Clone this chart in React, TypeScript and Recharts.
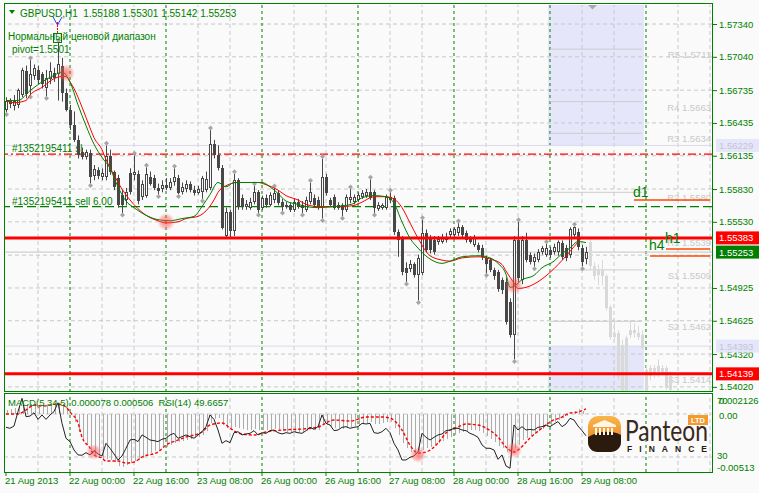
import React from 'react';
import {
  ComposedChart,
  Bar,
  Line,
  XAxis,
  YAxis,
  ReferenceLine,
  ReferenceArea,
  ReferenceDot,
} from 'recharts';

const GREEN = '#008000';
const FONT = '"Liberation Sans", Arial, sans-serif';
const W = 759;
const H = 493;
const PLOT_R = 712;
const SLOTS = 177; // 4px per H1 bar across the plot
const MAIN_DOMAIN = [1.53973, 1.57514];

// GBPUSD H1, 21 Aug 08:00 .. 29 Aug 09:00
const candleOpen = [
  1.5655, 1.5664, 1.5659, 1.566, 1.5669, 1.5691, 1.5677, 1.5686, 1.5692, 1.5688,
  1.5675, 1.5684, 1.5689, 1.5688, 1.5696, 1.5671, 1.5655, 1.5642, 1.5628, 1.5617,
  1.5612, 1.5616, 1.5595, 1.56, 1.5594, 1.5594, 1.5613, 1.5599, 1.5593, 1.5578,
  1.5573, 1.5598, 1.5596, 1.5597, 1.5576, 1.5577, 1.5594, 1.5593, 1.5584, 1.5583,
  1.5587, 1.5584, 1.5589, 1.5593, 1.558, 1.5583, 1.5588, 1.5582, 1.5579, 1.558,
  1.5582, 1.5584, 1.5624, 1.5614, 1.5602, 1.554, 1.5562, 1.5545, 1.5591, 1.5575,
  1.5567, 1.5566, 1.5571, 1.558, 1.5566, 1.5575, 1.5568, 1.5573, 1.5579, 1.5571,
  1.5567, 1.5568, 1.5564, 1.5571, 1.5568, 1.5564, 1.5571, 1.5575, 1.5573, 1.5566,
  1.5594, 1.5573, 1.5576, 1.5568, 1.5568, 1.5564, 1.5573, 1.5571, 1.5573, 1.5576,
  1.5577, 1.558, 1.558, 1.5565, 1.5566, 1.5566, 1.5576, 1.5575, 1.5544, 1.5538,
  1.5511, 1.551, 1.5514, 1.5504, 1.5506, 1.5543, 1.5538, 1.5536, 1.5535, 1.5535,
  1.5539, 1.5541, 1.5541, 1.5543, 1.5548, 1.5543, 1.5538, 1.5532, 1.5532, 1.5529,
  1.552, 1.5518, 1.5509, 1.5507, 1.55, 1.5498, 1.548, 1.5449, 1.5536, 1.55,
  1.5536, 1.5523, 1.5516, 1.5518, 1.5525, 1.5523, 1.5527, 1.5525, 1.5525, 1.5534,
  1.5529, 1.5523, 1.5541, 1.5544, 1.5529, 1.55188,
];
const candleHigh = [
  1.5667, 1.5666, 1.5669, 1.5675, 1.5694, 1.5696, 1.5701, 1.5697, 1.5696, 1.569,
  1.5692, 1.5699, 1.5694, 1.5717, 1.5703, 1.5675, 1.566, 1.5654, 1.5632, 1.5621,
  1.5619, 1.5619, 1.5605, 1.5603, 1.5602, 1.5623, 1.5619, 1.56, 1.5596, 1.5582,
  1.5584, 1.5602, 1.5614, 1.56, 1.5591, 1.5603, 1.5599, 1.5596, 1.5588, 1.5591,
  1.5593, 1.5593, 1.5602, 1.5596, 1.5589, 1.5591, 1.559, 1.5586, 1.5586, 1.5595,
  1.5599, 1.5637, 1.5628, 1.5623, 1.5605, 1.5566, 1.5564, 1.5597, 1.5593, 1.5578,
  1.5573, 1.5575, 1.5586, 1.5582, 1.5577, 1.5578, 1.558, 1.5584, 1.5582, 1.5574,
  1.5571, 1.5571, 1.5574, 1.5574, 1.5572, 1.5576, 1.5589, 1.5578, 1.5576, 1.5611,
  1.5597, 1.5575, 1.5578, 1.5571, 1.557, 1.5578, 1.5583, 1.5578, 1.558, 1.5582,
  1.5583, 1.5592, 1.5582, 1.5571, 1.557, 1.5578, 1.558, 1.5577, 1.5546, 1.554,
  1.5516, 1.5518, 1.5516, 1.5523, 1.5555, 1.5546, 1.5541, 1.554, 1.554, 1.5542,
  1.5543, 1.5547, 1.5548, 1.5552, 1.555, 1.5545, 1.554, 1.5541, 1.5534, 1.5532,
  1.5522, 1.552, 1.5511, 1.5509, 1.5502, 1.5502, 1.5483, 1.554, 1.5553, 1.554,
  1.5543, 1.5525, 1.5524, 1.5528, 1.5531, 1.5533, 1.553, 1.5533, 1.5536, 1.5536,
  1.5532, 1.5548, 1.5549, 1.5547, 1.5532, 1.55301,
];
const candleLow = [
  1.5653, 1.5657, 1.5655, 1.5657, 1.5667, 1.5666, 1.5669, 1.5683, 1.5679, 1.5675,
  1.5668, 1.5679, 1.5681, 1.5664, 1.5663, 1.5654, 1.5637, 1.5626, 1.5611, 1.561,
  1.561, 1.5588, 1.5591, 1.5592, 1.5591, 1.5591, 1.5596, 1.5582, 1.5566, 1.5561,
  1.5568, 1.5578, 1.5591, 1.5569, 1.5573, 1.5575, 1.5586, 1.5582, 1.5578, 1.558,
  1.5582, 1.5582, 1.5586, 1.5578, 1.5578, 1.558, 1.558, 1.5577, 1.5578, 1.5574,
  1.558, 1.5582, 1.5611, 1.56, 1.5546, 1.5538, 1.5538, 1.554, 1.5564, 1.5564,
  1.5564, 1.5564, 1.5569, 1.5561, 1.5564, 1.5566, 1.5567, 1.557, 1.5568, 1.5563,
  1.5565, 1.5562, 1.5562, 1.5565, 1.5561, 1.5562, 1.5569, 1.5566, 1.5564, 1.5556,
  1.5577, 1.5567, 1.5564, 1.5564, 1.5558, 1.5562, 1.557, 1.5569, 1.5571, 1.5574,
  1.5575, 1.5573, 1.5561, 1.5563, 1.5564, 1.5564, 1.557, 1.5541, 1.5521, 1.5504,
  1.5498, 1.5507, 1.5502, 1.5481, 1.5504, 1.5525, 1.5524, 1.5523, 1.5532, 1.5533,
  1.5534, 1.5538, 1.5539, 1.554, 1.5539, 1.5534, 1.5533, 1.553, 1.5525, 1.5518,
  1.5506, 1.5507, 1.55, 1.5489, 1.5487, 1.5459, 1.5447, 1.5427, 1.5498, 1.5496,
  1.5516, 1.5514, 1.5512, 1.5516, 1.5523, 1.5521, 1.552, 1.5523, 1.5522, 1.5518,
  1.5517, 1.552, 1.5538, 1.5527, 1.5512, 1.55142,
];
const candleClose = [
  1.5664, 1.5661, 1.5664, 1.5674, 1.5692, 1.567, 1.5688, 1.5694, 1.5683, 1.5679,
  1.5685, 1.5691, 1.5685, 1.5697, 1.5671, 1.5655, 1.5642, 1.5628, 1.5614, 1.5612,
  1.5617, 1.5594, 1.5601, 1.5595, 1.5598, 1.5613, 1.5599, 1.5585, 1.5568, 1.5568,
  1.558, 1.558, 1.5599, 1.5572, 1.5588, 1.5597, 1.5588, 1.5584, 1.5581, 1.5587,
  1.5584, 1.5589, 1.5594, 1.5579, 1.5585, 1.5588, 1.5582, 1.5579, 1.5583, 1.5593,
  1.5592, 1.5624, 1.5614, 1.5602, 1.5547, 1.5562, 1.5545, 1.5591, 1.5567, 1.5567,
  1.5569, 1.5571, 1.558, 1.5564, 1.5575, 1.5568, 1.5578, 1.5579, 1.557, 1.5567,
  1.5568, 1.5564, 1.5571, 1.5567, 1.5566, 1.5573, 1.558, 1.5568, 1.5566, 1.5594,
  1.5579, 1.5568, 1.5566, 1.5566, 1.5564, 1.5576, 1.5576, 1.5576, 1.5578, 1.5579,
  1.558, 1.5575, 1.5566, 1.5568, 1.5568, 1.5576, 1.5573, 1.5544, 1.5536, 1.5507,
  1.5506, 1.5514, 1.5504, 1.552, 1.5543, 1.5527, 1.5527, 1.5525, 1.5537, 1.5539,
  1.5536, 1.5545, 1.5546, 1.5548, 1.5541, 1.5536, 1.5535, 1.5539, 1.5527, 1.5521,
  1.5514, 1.5509, 1.5503, 1.5492, 1.5491, 1.5461, 1.5449, 1.5536, 1.5502, 1.5536,
  1.5518, 1.5516, 1.5521, 1.5525, 1.5529, 1.5529, 1.5523, 1.553, 1.5535, 1.5521,
  1.552, 1.5546, 1.5548, 1.553, 1.5516, 1.55253,
];

// faded bars drawn to the right of the last real bar
const ghostOpen = [
  1.5535, 1.5513, 1.5504, 1.5509, 1.5503, 1.5475, 1.5448, 1.5451, 1.544, 1.5398, 1.5449,
  1.5454, 1.5451, 1.5449, 1.5417, 1.5419, 1.5413, 1.5416, 1.5419, 1.5419, 1.5412,
];
const ghostHigh = [
  1.5538, 1.5516, 1.5514, 1.5518, 1.5505, 1.5477, 1.5465, 1.5454, 1.5445, 1.5449, 1.5463,
  1.546, 1.5458, 1.5454, 1.5422, 1.5422, 1.5422, 1.5427, 1.5422, 1.5421, 1.5416,
];
const ghostLow = [
  1.5509, 1.55, 1.5495, 1.5495, 1.5472, 1.5445, 1.5445, 1.5408, 1.5397, 1.5397, 1.5447,
  1.5447, 1.5445, 1.5436, 1.5397, 1.5408, 1.541, 1.5411, 1.5413, 1.5399, 1.5397,
];
const ghostClose = [
  1.5513, 1.5503, 1.551, 1.5503, 1.5474, 1.5448, 1.5451, 1.5411, 1.5398, 1.5447, 1.5454,
  1.5451, 1.5448, 1.5438, 1.5398, 1.5412, 1.5419, 1.5421, 1.5416, 1.5401, 1.5399,
];

const fractalUp = [6, 13, 25, 32, 35, 42, 51, 57, 62, 67, 76, 79, 86, 91, 96, 104, 113, 128, 135, 142];
const fractalDown = [0, 6, 10, 21, 29, 38, 43, 49, 63, 69, 74, 79, 84, 92, 100, 103, 120, 127, 132, 144];

// moving averages, read at sample bars
const fastMaBars = [
  0, 3, 6, 9, 12, 14, 16, 18, 20, 22, 24, 26, 28, 30, 32, 35, 38, 41, 44, 47, 49, 51, 53, 55, 57, 60, 64, 66, 68, 70,
  73, 75, 78, 82, 85, 87, 89, 92, 95, 97, 99, 101, 103, 106, 109, 111, 114, 118, 121, 123, 125, 126, 127, 129, 132,
  134, 137, 139, 141, 143, 145,
];
const fastMaValues = [
  1.5664, 1.5664, 1.5673, 1.5681, 1.5687, 1.569, 1.5681, 1.566, 1.5641, 1.5624, 1.5612, 1.5602, 1.5585, 1.5572,
  1.5566, 1.5559, 1.5555, 1.5554, 1.5556, 1.5558, 1.5567, 1.5578, 1.5589, 1.5585, 1.5589, 1.5589, 1.5589, 1.5585,
  1.5579, 1.5572, 1.5569, 1.5567, 1.5566, 1.5567, 1.5568, 1.557, 1.5575, 1.5577, 1.5576, 1.557, 1.5553, 1.5538,
  1.5529, 1.5519, 1.5515, 1.5517, 1.5521, 1.5522, 1.552, 1.5515, 1.5505, 1.5493, 1.5494, 1.55, 1.5504, 1.5511,
  1.5517, 1.5524, 1.5529, 1.5535, 1.5534,
];
const slowMaBars = [
  0, 2, 5, 6, 9, 12, 14, 15, 16, 17, 19, 21, 22, 24, 25, 27, 29, 31, 33, 35, 38, 40, 43, 45, 48, 50, 52, 53, 55, 58,
  63, 65, 68, 70, 73, 75, 78, 84, 87, 89, 92, 95, 97, 99, 101, 103, 106, 109, 111, 114, 118, 121, 124, 125, 127, 128,
  144,
];
const slowMaValues = [
  1.5664, 1.5662, 1.5664, 1.5669, 1.5676, 1.5684, 1.5686, 1.5686, 1.5681, 1.5675, 1.5658, 1.5639, 1.563, 1.5619,
  1.561, 1.5596, 1.5583, 1.5573, 1.5565, 1.5559, 1.5554, 1.5552, 1.5553, 1.5556, 1.5558, 1.5563, 1.5573, 1.558,
  1.5586, 1.5589, 1.5589, 1.5587, 1.5582, 1.5577, 1.5573, 1.5569, 1.5567, 1.5567, 1.5568, 1.5571, 1.5576, 1.5576,
  1.5574, 1.5566, 1.5552, 1.5538, 1.5522, 1.5518, 1.5517, 1.552, 1.5521, 1.5519, 1.5514, 1.5508, 1.5497, 1.5492,
  1.5539,
];

// MACD(5,34,5) main line, in units of 1e-4
const macdMain = [
  3.9, 4.8, 5.8, 7.7, 9.7, 9.7, 9.7, 9.7, 8.7, 8.7,
  8.7, 8.7, 9.7, 10.6, 9.7, 5.8, 0, -7.7, -17.4, -25.2,
  -30, -34.8, -39.7, -42.6, -44.5, -43.6, -44.5, -46.5, -50.3, -51.3,
  -49.4, -47.4, -45.5, -44.5, -42.6, -39.7, -37.8, -35.8, -34.8, -32.9,
  -31.9, -30, -28.1, -27.1, -26.1, -25.2, -24.2, -23.2, -22.3, -20.3,
  -16.5, -8.7, -4.8, -3.9, -10.6, -13.6, -15.5, -12.6, -13.6, -14.5,
  -15.5, -15.5, -14.5, -15.5, -15.5, -15.5, -15.5, -14.5, -15.5, -16.5,
  -17.4, -17.4, -17.4, -17.4, -17.4, -16.5, -14.5, -15.5, -15.5, -10.6,
  -10.6, -12.6, -13.6, -13.6, -14.5, -13.6, -12.6, -11.6, -10.6, -9.7,
  -8.7, -7.7, -9.7, -9.7, -8.7, -7.7, -7.7, -13.6, -20.3, -28.1,
  -32.9, -36.8, -37.8, -37.8, -34.8, -32.9, -31.9, -30, -28.1, -26.1,
  -24.2, -22.3, -20.3, -18.4, -17.4, -16.5, -15.5, -15.5, -16.5, -18.4,
  -21.3, -24.2, -27.1, -31, -32.9, -36.8, -40.7, -32.9, -30, -25.2,
  -23.2, -21.3, -19.4, -16.5, -14.5, -12.6, -10.6, -7.7, -5.8, -3.9,
  -1.9, 1, 2.9, 4.8, 2.9, 0.78,
];
// MACD signal line, 1e-4, read at sample bars
const signalBars = [
  0, 3, 5, 7, 9, 13, 15, 16, 18, 19, 21, 22, 24, 25, 28, 30, 32, 34, 38, 40, 43, 45, 49, 51, 54, 56, 58, 62, 65,
  69, 74, 78, 82, 86, 90, 94, 96, 99, 101, 103, 105, 108, 110, 113, 115, 118, 120, 123, 125, 127, 128, 131, 134,
  136, 139, 141, 143, 145,
];
const signalValues = [
  0, 0, 3.9, 8.7, 7.7, 9.7, 6.8, 1.9, -8.7, -22.3, -32.9, -39.7, -42.6, -45.5, -45.5, -47.4, -46.5, -41.6, -36.8,
  -30, -25.2, -22.3, -17.4, -10.6, -8.7, -13.6, -18.4, -20.3, -17.4, -15.5, -14.5, -12.6, -5.8, -6.8, -2.9, -2.9,
  -3.9, -15.5, -30, -37.8, -36.8, -28.1, -18.4, -12.6, -9.7, -10.6, -13.6, -22.3, -31.9, -36.8, -34.8, -23.2,
  -13.6, -7.7, -2.9, 1, 1.9, 5.06,
];
const rsi14 = [
  57.6, 56.7, 58.8, 72.2, 84.6, 67.5, 68.1, 71.2, 65, 69.1,
  65, 69.1, 72.2, 80.5, 61.3, 47.4, 44.3, 36.5, 31.9, 31.6,
  34, 31.9, 35.9, 32.8, 30.9, 42.7, 38.1, 32.8, 27.2, 30.9,
  38.1, 45.8, 46.5, 44.3, 50.5, 48.3, 45.8, 45.2, 44.3, 46.5,
  47.4, 50.5, 52, 47.4, 48.9, 50.5, 48.9, 47.4, 50.5, 53.5,
  58.2, 69.1, 65, 55.1, 42.7, 45.2, 43.3, 52.6, 53.5, 50.5,
  51.4, 52, 54.5, 50.5, 52.6, 52, 54.5, 55.1, 52.6, 51.4,
  52.6, 52, 53.5, 52.6, 52, 54.5, 57.6, 55.7, 58.2, 69.1,
  61.3, 59.8, 54.5, 55.1, 57.6, 58.2, 56.7, 57.6, 58.2, 61.3,
  60.7, 61.3, 52.6, 52, 53.5, 56.7, 52.6, 42.7, 36.5, 27.2,
  27.2, 29.7, 30.9, 34.9, 52, 48.3, 45.8, 48.3, 50.5, 51.4,
  54.5, 55.1, 56.7, 56.7, 55.1, 54.5, 52, 50.5, 48.3, 41.2,
  38.1, 38.1, 36.5, 27.8, 31.9, 21.6, 19.5, 59.8, 55.1, 58.2,
  55.1, 55.7, 55.1, 57.6, 58.2, 59.8, 58.2, 60.7, 62.9, 58.2,
  60.7, 66, 64.4, 58.8, 54.5, 49.7,
];

const separatorBars = [16, 40, 64, 88, 112, 136, 160];
const dateTickBars = [0, 16, 32, 48, 64, 80, 96, 112, 128, 144];
const dateLabels = [
  '21 Aug 2013', '22 Aug 00:00', '22 Aug 16:00', '23 Aug 08:00', '26 Aug 00:00',
  '26 Aug 16:00', '27 Aug 08:00', '28 Aug 00:00', '28 Aug 16:00', '29 Aug 08:00',
];

const gridPrices = [1.5734, 1.5704, 1.56735, 1.56435, 1.56135, 1.5583, 1.5553, 1.55225, 1.54925, 1.54625, 1.5432, 1.5402];
const labelPrices = gridPrices.filter((p) => p !== 1.55225);
const boxPrices = [
  { value: 1.56229, bg: '#e6e6fa', fg: '#c4c4d6' },
  { value: 1.54393, bg: '#e6e6fa', fg: '#c4c4d6' },
  { value: 1.55383, bg: '#ff0000', fg: '#ffffff' },
  { value: 1.54139, bg: '#ff0000', fg: '#ffffff' },
  { value: 1.55253, bg: GREEN, fg: '#ffffff' },
];
const zoneTop = 1.56229;
const zoneBottom = 1.54393;
const zoneBars = [136, 159];
const pivotNames = ['R5', 'R4', 'R3', 'R2', 'R1', 'S1', 'S2', 'S3'];
const pivotValues = [1.5711, 1.5663, 1.5634, 1.558, 1.5539, 1.5509, 1.5462, 1.5414];
const levelNames = ['d1', 'h4', 'h1'];
const levelValues = [1.5573, 1.55217, 1.55281];
const levelStartBars = [157, 161, 165];
const levelLabelDy: Record<string, number> = { d1: -3, h4: -6, h1: -6 };
const bidPrice = 1.55253;
const stopPrice = 1.5615;
const sellPrice = 1.5567;
const redLevels = [1.55383, 1.54139];
const crossMain = [
  { bar: 15, value: 1.5689 },
  { bar: 40, value: 1.5553 },
  { bar: 127, value: 1.5495 },
];
const crossSub = [
  { bar: 22, value: 34.7 },
  { bar: 103, value: 31.9 },
  { bar: 127, value: 36.5 },
];

type Row = { i: number; [key: string]: any };

const mainRows: Row[] = Array.from({ length: SLOTS }, (_, i) => ({ i }));
candleOpen.forEach((open, k) => {
  Object.assign(mainRows[k], {
    open, high: candleHigh[k], low: candleLow[k], close: candleClose[k],
    range: [candleLow[k], candleHigh[k]],
  });
});
ghostOpen.forEach((open, n) => {
  const k = candleOpen.length + n;
  Object.assign(mainRows[k], {
    open, high: ghostHigh[n], low: ghostLow[n], close: ghostClose[n],
    range: [ghostLow[n], ghostHigh[n]], ghost: true,
  });
});
fractalUp.forEach((k) => { mainRows[k].fu = true; });
fractalDown.forEach((k) => { mainRows[k].fd = true; });
fastMaBars.forEach((k, n) => { mainRows[k].fast = fastMaValues[n]; });
slowMaBars.forEach((k, n) => { mainRows[k].slow = slowMaValues[n]; });

const subRows: Row[] = Array.from({ length: SLOTS }, (_, i) => ({ i }));
macdMain.forEach((v, k) => { subRows[k].macd = v; });
rsi14.forEach((v, k) => { subRows[k].rsi = v; });
signalBars.forEach((k, n) => { subRows[k].signal = signalValues[n]; });

const gridBars: number[] = [];
for (let k = 8; k < SLOTS; k += 8) if (!separatorBars.includes(k)) gridBars.push(k);

function Candle(props: any) {
  const { x, y, width, height, payload } = props;
  if (!payload || payload.high == null) return null;
  const top = Math.min(y, y + height);
  const h = Math.abs(height);
  const { open, close, high, low, ghost, fu, fd } = payload;
  const span = high - low || 1e-9;
  const py = (v: number) => top + ((high - v) / span) * h;
  const cx = Math.round(x + width / 2);
  const yo = py(open);
  const yc = py(close);
  const bTop = Math.round(Math.min(yo, yc));
  const bBot = Math.round(Math.max(yo, yc));
  const col = ghost ? '#d9d9d9' : '#474747';
  const bull = close > open;
  const diamond = (cy: number) => (
    <polygon
      points={`${cx + 0.5},${cy - 2.5} ${cx + 3},${cy} ${cx + 0.5},${cy + 2.5} ${cx - 2},${cy}`}
      fill="#a6a6a6"
    />
  );
  return (
    <g>
      <line x1={cx + 0.5} x2={cx + 0.5} y1={top} y2={top + h} stroke={col} strokeWidth={1} />
      {bBot - bTop < 1 ? (
        <line x1={cx - 1} x2={cx + 2} y1={bTop + 0.5} y2={bTop + 0.5} stroke={col} />
      ) : bull && !ghost ? (
        <rect x={cx - 0.5} y={bTop + 0.5} width={2} height={Math.max(0, bBot - bTop - 1)} fill="#fafafa" stroke={col} strokeWidth={1} />
      ) : (
        <rect x={cx - 1} y={bTop} width={3} height={bBot - bTop} fill={col} />
      )}
      {fu && !ghost ? diamond(top - 2) : null}
      {fd && !ghost ? diamond(top + h + 2) : null}
    </g>
  );
}

function HistBar(props: any) {
  const { x, y, width, height } = props;
  if (height == null || isNaN(y)) return null;
  const top = Math.min(y, y + height);
  const cx = Math.round(x + width / 2);
  return <rect x={cx} y={top} width={1} height={Math.abs(height)} fill="#ababab" />;
}

function PriceTick(props: any) {
  const { y, payload } = props;
  const v = payload.value as number;
  const box = boxPrices.find((b) => b.value === v);
  const label = v.toFixed(5);
  if (box) {
    return (
      <g>
        <rect x={716} y={y - 6.5} width={W - 716} height={13} fill={box.bg} />
        <text x={719} y={y + 3.5} fill={box.fg} fontSize={9.5} fontFamily={FONT}>{label}</text>
      </g>
    );
  }
  return (
    <g>
      <line x1={PLOT_R + 1} x2={PLOT_R + 5} y1={y + 0.5} y2={y + 0.5} stroke={GREEN} />
      <text x={719} y={y + 3.5} fill={GREEN} fontSize={9.5} fontFamily={FONT}>{label}</text>
    </g>
  );
}

function DateTick(props: any) {
  const { x, y, payload } = props;
  const idx = dateTickBars.indexOf(payload.value);
  return (
    <text x={x - 1} y={y + 6} fill={GREEN} fontSize={9.5} fontFamily={FONT}>
      {dateLabels[idx]}
    </text>
  );
}

function OrderLabel(props: any) {
  const { viewBox, caption } = props;
  if (!viewBox) return null;
  return (
    <text x={viewBox.x + 8} y={viewBox.y - 2} fill={GREEN} fontSize={10} fontFamily={FONT}>
      {caption}
    </text>
  );
}

function PivotLabel(props: any) {
  const { viewBox, caption } = props;
  if (!viewBox) return null;
  return (
    <text x={PLOT_R - 1} y={viewBox.y + 9} textAnchor="end" fill="#c9c9c9" fontSize={9.5} fontFamily={FONT}>
      {caption}
    </text>
  );
}

function LevelLabel(props: any) {
  const { viewBox, caption } = props;
  if (!viewBox) return null;
  return (
    <text x={viewBox.x - 1} y={viewBox.y + (levelLabelDy[caption] ?? -3)} fill={GREEN} fontSize={14} fontFamily={FONT}>
      {caption}
    </text>
  );
}

const dashGrid = { stroke: '#c8c8c8', strokeDasharray: '4 3' };

export default function App() {
  return (
    <div
      style={{
        position: 'absolute', left: 0, top: 0, width: W, height: H,
        background: '#fafafa', overflow: 'hidden', fontFamily: FONT,
      }}
    >
      <div style={{ position: 'absolute', left: 0, top: 0 }}>
        <ComposedChart width={W} height={395} data={mainRows} margin={{ top: 5, right: 0, bottom: 3, left: 4 }}>
          <XAxis dataKey="i" type="category" hide />
          <YAxis
            orientation="right"
            width={47}
            domain={MAIN_DOMAIN}
            allowDataOverflow
            ticks={[...labelPrices, ...boxPrices.map((b) => b.value)]}
            interval={0}
            tick={(p: any) => <PriceTick {...p} />}
            axisLine={false}
            tickLine={false}
          />
          <ReferenceArea zIndex={-90} x1={zoneBars[0]} x2={zoneBars[1]} y1={zoneTop} y2={MAIN_DOMAIN[1]} fill="#e6e6fa" fillOpacity={1} stroke="none" />
          <ReferenceArea zIndex={-90} x1={zoneBars[0]} x2={zoneBars[1]} y1={MAIN_DOMAIN[0]} y2={zoneBottom} fill="#e6e6fa" fillOpacity={1} stroke="none" />
          {gridPrices.map((p) => (
            <ReferenceLine zIndex={-80} key={'gy' + p} y={p} {...dashGrid} />
          ))}
          {gridBars.map((k) => (
            <ReferenceLine zIndex={-80} key={'gx' + k} x={k} {...dashGrid} />
          ))}
          {separatorBars.map((k) => (
            <ReferenceLine zIndex={-70} key={'sep' + k} x={k} stroke={GREEN} strokeDasharray="3 3" />
          ))}
          <ReferenceLine zIndex={-70} y={zoneTop} stroke="#dadaf0" />
          <ReferenceLine zIndex={-70} y={zoneBottom} stroke="#dadaf0" />
          {pivotValues.map((v, n) => (
            <ReferenceLine
              key={'pv' + n}
              zIndex={-70}
              segment={[{ x: zoneBars[0], y: v }, { x: zoneBars[1], y: v }]}
              stroke="#cdcdcd"
              label={<PivotLabel caption={`${pivotNames[n]} ${v.toFixed(4)}`} />}
            />
          ))}
          <ReferenceLine zIndex={-70} y={bidPrice} stroke="#c4c4c4" />
          <ReferenceLine zIndex={-60} y={stopPrice} stroke="#ff0000" strokeWidth={1.3} strokeDasharray="8 3 2 3" label={<OrderLabel caption="#1352195411 sl" />} />
          <ReferenceLine zIndex={-60} y={sellPrice} stroke={GREEN} strokeWidth={1.2} strokeDasharray="9 4" label={<OrderLabel caption="#1352195411 sell 6.00" />} />
          {redLevels.map((v) => (
            <ReferenceLine key={'red' + v} y={v} stroke="#ff0000" strokeWidth={3} />
          ))}
          {levelNames.map((name, n) => (
            <ReferenceLine
              key={'lv' + name}
              segment={[{ x: levelStartBars[n], y: levelValues[n] }, { x: SLOTS - 1, y: levelValues[n] }]}
              stroke="#ff4a00"
              strokeWidth={1.4}
              label={<LevelLabel caption={name} />}
            />
          ))}
          <Bar dataKey="range" barSize={4} shape={(p: any) => <Candle {...p} />} isAnimationActive={false} />
          <Line dataKey="slow" type="monotone" stroke="#ff0000" strokeWidth={1} dot={false} activeDot={false} connectNulls isAnimationActive={false} />
          <Line dataKey="fast" type="monotone" stroke={GREEN} strokeWidth={1} dot={false} activeDot={false} connectNulls isAnimationActive={false} />
          {crossMain.map((c) => (
            <ReferenceDot key={'cm' + c.bar} x={c.bar} y={c.value} r={9} fill="url(#pinkGlow)" stroke="none" />
          ))}
        </ComposedChart>
      </div>

      <div style={{ position: 'absolute', left: 0, top: 392 }}>
        <ComposedChart width={W} height={101} data={subRows} margin={{ top: 3, right: 47, bottom: 1, left: 4 }}>
          <XAxis
            dataKey="i"
            type="category"
            ticks={dateTickBars}
            interval={0}
            tick={(p: any) => <DateTick {...p} />}
            tickLine={{ stroke: GREEN }}
            tickSize={4}
            axisLine={false}
            height={20}
          />
          <YAxis yAxisId="macd" domain={[-56.1, 18.4]} hide allowDataOverflow />
          <YAxis yAxisId="rsi" domain={[16, 87.7]} hide allowDataOverflow />
          {[70, 30].map((v) => (
            <ReferenceLine zIndex={-80} key={'rl' + v} yAxisId="rsi" y={v} {...dashGrid} />
          ))}
          {gridBars.map((k) => (
            <ReferenceLine zIndex={-80} key={'sgx' + k} yAxisId="rsi" x={k} {...dashGrid} />
          ))}
          {separatorBars.map((k) => (
            <ReferenceLine zIndex={-70} key={'ssep' + k} yAxisId="rsi" x={k} stroke={GREEN} strokeDasharray="3 3" />
          ))}
          <Bar yAxisId="macd" dataKey="macd" barSize={1} shape={(p: any) => <HistBar {...p} />} isAnimationActive={false} />
          <Line yAxisId="macd" dataKey="signal" type="monotone" stroke="#ff0000" strokeWidth={1.4} strokeDasharray="3 2" dot={false} activeDot={false} connectNulls isAnimationActive={false} />
          <Line yAxisId="rsi" dataKey="rsi" type="linear" stroke="#222222" strokeWidth={1} dot={false} activeDot={false} isAnimationActive={false} />
          {crossSub.map((c) => (
            <ReferenceDot key={'cs' + c.bar} yAxisId="rsi" x={c.bar} y={c.value} r={8} fill="url(#pinkGlow)" stroke="none" />
          ))}
        </ComposedChart>
      </div>

      <svg width={W} height={H} style={{ position: 'absolute', left: 0, top: 0, pointerEvents: 'none' }}>
        <defs>
          <radialGradient id="pinkGlow">
            <stop offset="0%" stopColor="#ff3b3b" stopOpacity={0.6} />
            <stop offset="60%" stopColor="#ff5a5a" stopOpacity={0.42} />
            <stop offset="100%" stopColor="#ff8080" stopOpacity={0} />
          </radialGradient>
          <linearGradient id="logoOrange" x1="0" y1="0" x2="0" y2="1">
            <stop offset="0" stopColor="#f8b64c" />
            <stop offset="1" stopColor="#e87a18" />
          </linearGradient>
        </defs>
        {/* panel frames */}
        <rect x={4.5} y={3.5} width={708} height={388} fill="none" stroke={GREEN} />
        <rect x={4.5} y={393.5} width={708} height={79} fill="none" stroke={GREEN} />
        {/* header */}
        <polygon points="9,10 15,10 12,14" fill={GREEN} />
        <text x={20} y={17} fill={GREEN} fontSize={10} fontFamily={FONT} style={{ whiteSpace: 'pre' }}>
          {'GBPUSD,H1  1.55188 1.55301 1.55142 1.55253'}
        </text>
        {/* arrow object near the header */}
        <polyline points="53,17 57.5,25 62,17" fill="none" stroke="#2b3cff" strokeWidth={1} />
        <line x1={57.5} x2={57.5} y1={22} y2={33} stroke="#ff0000" strokeDasharray="2 1" />
        <rect x={53.5} y={33.5} width={8} height={9} fill="none" stroke={GREEN} />
        <text x={8} y={40} fill={GREEN} fontSize={10} fontFamily={FONT}>Нормальный ценовой диапазон</text>
        <text x={12} y={53} fill={GREEN} fontSize={10} fontFamily={FONT}>pivot=1.5501</text>
        <polygon points="588,5 597,5 592.5,9.5" fill="#a8a8a8" />
        {/* sub-window header and scale */}
        <text x={8} y={406} fill={GREEN} fontSize={9.5} fontFamily={FONT} style={{ whiteSpace: 'pre' }}>
          {'MACD(5,34,5) 0.000078 0.000506  RSI(14) 49.6657'}
        </text>
        <text x={717} y={404} fill={GREEN} fontSize={9.5} fontFamily={FONT}>70</text>
        <text x={719} y={404} fill={GREEN} fontSize={9.5} fontFamily={FONT}>0.002126</text>
        <text x={719} y={419} fill={GREEN} fontSize={9.5} fontFamily={FONT}>0.00</text>
        <text x={717} y={459} fill={GREEN} fontSize={9.5} fontFamily={FONT}>30</text>
        <text x={717} y={471} fill={GREEN} fontSize={9.5} fontFamily={FONT}>-0.00513</text>
        {/* logo */}
        <rect x={588} y={416} width={33} height={36} rx={10} fill="url(#logoOrange)" />
        <path d="M588 437 C 598 431, 612 430, 621 435 L 621 442 C 621 448, 616 452, 610 452 L 598 452 C 592 452, 588 448, 588 442 Z" fill="#2b1a0e" />
        <path d="M593 425 L604.5 420 L616 425 Z" fill="#fff6e6" />
        <rect x={593} y={425} width={23} height={2} fill="#fff6e6" />
        {[595, 599, 603, 607, 611].map((cx) => (
          <rect key={cx} x={cx} y={428} width={2} height={7} fill="#fff6e6" />
        ))}
        <rect x={688} y={415} width={20} height={10} fill="#f39b2f" />
        <text x={698} y={423} textAnchor="middle" fontSize={7.5} fontWeight="bold" fill="#ffffff" fontFamily={FONT}>LTD</text>
        <text x={625} y={441} fontSize={28} fill="#3a281a" fontFamily="Lato, sans-serif" textLength={83} lengthAdjust="spacingAndGlyphs">Panteon</text>
        <text x={627} y={452} fontSize={8.5} fontWeight="bold" fill="#2b1a0e" fontFamily={FONT} textLength={80} lengthAdjust="spacing">FINANCE</text>
      </svg>
    </div>
  );
}
